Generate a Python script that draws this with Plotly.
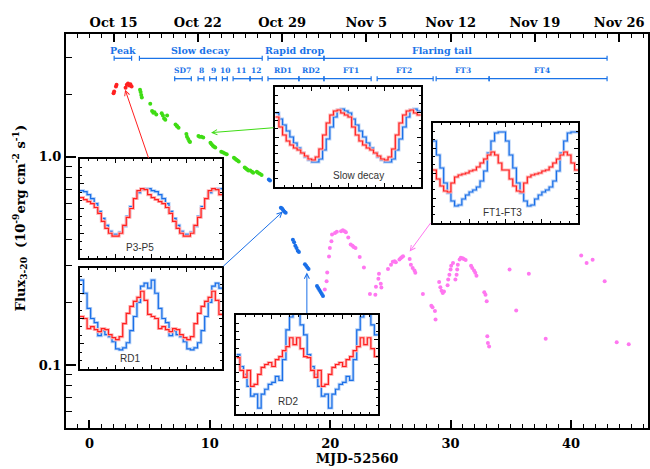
import numpy as np
import plotly.graph_objects as go

# ---------------- data ----------------
peak_t = [2.0, 2.05, 2.2, 2.25, 3.0, 3.1, 3.2, 3.3, 3.4, 3.5]
peak_f = [2.02, 2.06, 2.18, 2.22, 2.15, 2.22, 2.25, 2.20, 2.23, 2.18]

slow_t = [4.2, 4.25, 4.3, 4.35, 5.05, 5.2, 5.3, 5.4, 5.55, 6.0, 6.1, 6.2, 6.3, 6.45,
          7.15, 7.25, 7.3, 7.4, 8.05, 8.1, 8.2, 8.3, 8.35, 9.05, 9.15, 9.3, 9.45,
          10.05, 10.15, 10.25, 10.35, 10.45, 10.95, 11.1, 11.25, 11.4,
          12.0, 12.1, 12.2, 12.3, 12.4, 12.9, 13.0, 13.1, 13.2, 13.35, 13.5, 13.6,
          13.9, 14.0, 14.15, 14.3]
slow_f = [2.10, 2.05, 1.98, 1.93, 1.80, 1.66, 1.63, 1.64, 1.60, 1.62, 1.58, 1.53, 1.51, 1.58,
          1.43, 1.41, 1.40, 1.38, 1.29, 1.25, 1.22, 1.19, 1.18, 1.26, 1.25, 1.25, 1.24,
          1.17, 1.15, 1.13, 1.12, 1.11, 1.06, 1.05, 1.04, 1.03,
          0.99, 0.98, 0.97, 0.96, 0.95, 0.89, 0.88, 0.87, 0.86, 0.86, 0.85, 0.84,
          0.85, 0.84, 0.83, 0.82]

rapid_t = [14.9, 15.0, 15.9, 16.0, 16.1, 16.2, 16.3, 16.9, 17.0, 17.1, 17.2, 17.3, 17.4,
           17.9, 18.0, 18.1, 18.2, 18.9, 19.0, 19.1, 19.2, 19.3, 19.4]
rapid_f = [0.78, 0.77, 0.57, 0.565, 0.555, 0.545, 0.54, 0.40, 0.39, 0.375, 0.365, 0.355, 0.35,
           0.305, 0.30, 0.295, 0.29, 0.24, 0.235, 0.23, 0.225, 0.22, 0.215]

tail_t = [19.55, 19.7, 19.75, 19.9, 19.97, 20.1, 20.15, 20.4, 20.55, 20.9, 21.05, 21.2, 21.3,
          21.5, 21.7, 21.85, 21.95, 22.1, 22.45, 22.8, 23.3, 23.75, 23.8, 24.0, 24.05, 24.2,
          24.25, 24.8, 25.05, 25.2, 25.35, 25.45, 25.75, 25.85, 25.95, 26.05, 26.6, 26.7,
          26.85, 27.0, 27.07, 27.7, 28.4, 28.5, 28.7, 28.75, 29.05, 29.15, 29.25, 29.35,
          29.45, 29.75, 29.8, 29.9, 30.0, 30.05, 30.2, 30.4, 30.5, 30.55, 30.6, 30.75, 30.85,
          31.0, 31.1, 31.25, 31.7, 31.8, 31.95, 32.05, 32.15, 32.8, 32.9, 33.0, 33.05, 33.1,
          33.2, 34.9, 35.45, 36.5, 37.9, 40.85, 41.3, 41.8, 42.8, 43.8, 44.8]
tail_f = [0.231, 0.253, 0.279, 0.333, 0.366, 0.394, 0.424, 0.432, 0.438, 0.44, 0.445, 0.44, 0.435,
          0.41, 0.38, 0.375, 0.37, 0.365, 0.331, 0.295, 0.22, 0.218, 0.238, 0.26, 0.275, 0.246,
          0.236, 0.29, 0.304, 0.314, 0.316, 0.312, 0.322, 0.326, 0.33, 0.334, 0.324, 0.304,
          0.293, 0.285, 0.278, 0.22, 0.193, 0.19, 0.182, 0.166, 0.251, 0.237, 0.228, 0.222,
          0.226, 0.242, 0.258, 0.272, 0.288, 0.30, 0.31, 0.258, 0.272, 0.288, 0.304, 0.322, 0.328,
          0.326, 0.324, 0.32, 0.30, 0.293, 0.285, 0.278, 0.269, 0.224, 0.218, 0.203, 0.138, 0.128,
          0.123, 0.288, 0.183, 0.275, 0.134, 0.336, 0.31, 0.321, 0.253, 0.129, 0.126]

# phase bars (days, MJD-52560)
phase_names = ['Peak', 'Slow decay', 'Rapid drop', 'Flaring tail']
phase_start = [2.05, 4.15, 14.83, 19.48]
phase_end = [3.5, 14.35, 19.48, 43.0]
phase_label_x = [2.8, 9.2, 17.0, 29.3]

sub_names = ['SD7', '8', '9', '10', '11', '12', 'RD1', 'RD2', 'FT1', 'FT2', 'FT3', 'FT4']
sub_start = [7.08, 9.02, 9.99, 11.04, 11.93, 13.34, 14.83, 17.4, 19.48, 23.9, 28.8, 33.2]
sub_end = [8.46, 9.51, 10.54, 11.45, 13.34, 14.35, 17.4, 19.48, 23.4, 28.55, 33.2, 43.0]
sub_label_x = [7.75, 9.27, 10.27, 11.25, 12.6, 13.8, 16.1, 18.4, 21.7, 26.1, 31.0, 37.6]

top_tickvals = [2, 9, 16, 23, 30, 37, 44]
top_ticktext = ['Oct 15', 'Oct 22', 'Oct 29', 'Nov 5', 'Nov 12', 'Nov 19', 'Nov 26']

# pulse profiles: one cycle, 20 phase bins, intensity as fraction of inset height
p3p5_blue = [0.68, 0.67, 0.64, 0.60, 0.55, 0.47, 0.40, 0.33, 0.27, 0.24,
             0.24, 0.26, 0.32, 0.42, 0.52, 0.60, 0.66, 0.69, 0.70, 0.70]
p3p5_red = [0.61, 0.59, 0.57, 0.55, 0.51, 0.45, 0.37, 0.30, 0.25, 0.22,
            0.22, 0.25, 0.33, 0.41, 0.50, 0.60, 0.68, 0.70, 0.69, 0.64]
rd1_blue = [0.88, 0.75, 0.60, 0.50, 0.46, 0.33, 0.38, 0.34, 0.32, 0.27,
            0.20, 0.19, 0.21, 0.26, 0.38, 0.52, 0.66, 0.82, 0.85, 0.80]
rd1_red = [0.52, 0.50, 0.40, 0.42, 0.39, 0.37, 0.40, 0.39, 0.34, 0.31,
           0.29, 0.32, 0.45, 0.55, 0.62, 0.67, 0.71, 0.77, 0.68, 0.54]
sd_blue = [0.74, 0.68, 0.62, 0.56, 0.50, 0.44, 0.39, 0.34, 0.30, 0.27,
           0.25, 0.25, 0.28, 0.37, 0.48, 0.60, 0.70, 0.77, 0.78, 0.76]
sd_red = [0.70, 0.60, 0.52, 0.46, 0.42, 0.39, 0.37, 0.34, 0.31, 0.28,
          0.27, 0.30, 0.38, 0.52, 0.64, 0.72, 0.76, 0.77, 0.74, 0.72]
rd2_blue = [0.60, 0.48, 0.40, 0.28, 0.18, 0.20, 0.06, 0.20, 0.25, 0.30,
            0.32, 0.38, 0.34, 0.55, 0.85, 0.98, 1.05, 1.02, 0.90, 0.80]
rd2_red = [0.57, 0.44, 0.37, 0.44, 0.28, 0.30, 0.40, 0.47, 0.50, 0.52,
           0.48, 0.55, 0.58, 0.64, 0.68, 0.77, 0.70, 0.77, 0.66, 0.58]
ft_blue = [0.82, 0.68, 0.55, 0.40, 0.30, 0.22, 0.17, 0.18, 0.24, 0.28,
           0.31, 0.33, 0.36, 0.42, 0.52, 0.70, 0.82, 0.90, 0.91, 0.91]
ft_red = [0.53, 0.44, 0.37, 0.32, 0.31, 0.40, 0.46, 0.48, 0.49, 0.50,
          0.52, 0.53, 0.56, 0.60, 0.64, 0.68, 0.71, 0.68, 0.60, 0.53]

inset_names = ['P3-P5', 'RD1', 'Slow decay', 'RD2', 'FT1-FT3']

# ---------------- layout geometry ----------------
W, H = 650, 469
ML, MR, MT, MB = 66, 0, 34, 41
PW, PH = W - ML - MR, H - MT - MB

def px2paper_x(px):
    return (px - ML) / PW

def px2paper_y(py):
    return (H - MB - py) / PH

RED = '#ff2020'
GREEN = '#3fdc14'
BLUE = '#1a6fe8'
PINK = '#ff77f0'
ABLUE = '#1a73e8'

fig = go.Figure()

# main scatter
for t, f, c in [(peak_t, peak_f, RED), (slow_t, slow_f, GREEN),
                (rapid_t, rapid_f, BLUE), (tail_t, tail_f, PINK)]:
    fig.add_trace(go.Scatter(x=t, y=f, mode='markers',
                             marker=dict(size=4, color=c, line=dict(width=0)),
                             showlegend=False, hoverinfo='skip'))

# dummy trace for top axis
fig.add_trace(go.Scatter(x=[0], y=[1], xaxis='x2', yaxis='y', mode='markers',
                         marker=dict(opacity=0), showlegend=False, hoverinfo='skip'))

serif = 'DejaVu Serif'
fig.update_layout(
    width=W, height=H,
    margin=dict(l=ML, r=MR, t=MT, b=MB),
    paper_bgcolor='white', plot_bgcolor='white',
    showlegend=False,
    xaxis=dict(range=[-1.95, 46.4], tickmode='linear', tick0=0, dtick=10,
               ticks='inside', ticklen=8, tickwidth=1.5, tickcolor='black',
               minor=dict(dtick=1, tick0=0, ticklen=4, tickwidth=1, tickcolor='black', ticks='inside'),
               showline=True, linewidth=2, linecolor='black', mirror=False,
               showgrid=False, zeroline=False,
               tickfont=dict(family=serif, size=13, color='black', weight='bold'),
               ticklabelstandoff=2,
               title=dict(text='MJD-52560', standoff=2,
                          font=dict(family=serif, size=13, color='black', weight='bold'))),
    xaxis2=dict(range=[-1.95, 46.4], overlaying='x', side='top', anchor='y',
                tickmode='array', tickvals=top_tickvals, ticktext=top_ticktext,
                ticks='inside', ticklen=8, tickwidth=1.5, tickcolor='black',
                minor=dict(dtick=1, tick0=0, ticklen=4, tickwidth=1, tickcolor='black', ticks='inside'),
                showline=True, linewidth=2, linecolor='black',
                showgrid=False, zeroline=False,
                tickfont=dict(family=serif, size=13, color='black', weight='bold')),
    yaxis=dict(type='log', range=[np.log10(0.05), 0.59],
               tickmode='array', tickvals=[0.1, 1.0], ticktext=['0.1', '1.0'],
               ticks='inside', ticklen=10, tickwidth=1.5, tickcolor='black',
               minor=dict(tickmode='array',
                          tickvals=[0.06, 0.07, 0.08, 0.09, 0.2, 0.3, 0.4, 0.5, 0.6, 0.7, 0.8, 0.9, 2, 3],
                          ticklen=6, tickwidth=1, tickcolor='black', ticks='inside'),
               showline=True, linewidth=2, linecolor='black', mirror=True,
               showgrid=False, zeroline=False,
               tickfont=dict(family=serif, size=13, color='black', weight='bold')),
)

# y-axis title as annotation
annotations = [dict(
    text='Flux<sub>3-20</sub>  (10<sup>-9</sup>erg cm<sup>-2</sup> s<sup>-1</sup>)',
    xref='paper', yref='paper', x=px2paper_x(20), y=px2paper_y(218),
    textangle=-90, showarrow=False, xanchor='center', yanchor='middle',
    font=dict(family=serif, size=13, color='black', weight='bold'))]

shapes = []
# phase bars
row1_bar, row1_txt, row2_bar, row2_txt = 58.3, 50, 78.7, 70.7
for name, s, e, lx in zip(phase_names, phase_start, phase_end, phase_label_x):
    yb = px2paper_y(row1_bar)
    shapes.append(dict(type='line', xref='x', yref='paper', x0=s, x1=e, y0=yb, y1=yb,
                       line=dict(color=ABLUE, width=1.3)))
    for xx in (s, e):
        shapes.append(dict(type='line', xref='x', yref='paper', x0=xx, x1=xx,
                           y0=px2paper_y(row1_bar - 2.5), y1=px2paper_y(row1_bar + 2.5),
                           line=dict(color=ABLUE, width=1.2)))
    annotations.append(dict(text=name, xref='x', yref='paper', x=lx, y=px2paper_y(row1_txt),
                            showarrow=False, xanchor='center', yanchor='middle',
                            font=dict(family=serif, size=9.5, color=ABLUE, weight='bold')))
for name, s, e, lx in zip(sub_names, sub_start, sub_end, sub_label_x):
    yb = px2paper_y(row2_bar)
    shapes.append(dict(type='line', xref='x', yref='paper', x0=s, x1=e, y0=yb, y1=yb,
                       line=dict(color=ABLUE, width=1.3)))
    for xx in (s, e):
        shapes.append(dict(type='line', xref='x', yref='paper', x0=xx, x1=xx,
                           y0=px2paper_y(row2_bar - 2.5), y1=px2paper_y(row2_bar + 2.5),
                           line=dict(color=ABLUE, width=1.2)))
    annotations.append(dict(text=name, xref='x', yref='paper', x=lx, y=px2paper_y(row2_txt),
                            showarrow=False, xanchor='center', yanchor='middle',
                            font=dict(family=serif, size=7.5, color=ABLUE, weight='bold')))

# ---------------- insets ----------------
inset_boxes = [  # pixel boxes (x0, x1, ytop, ybottom)
    (80, 223, 159, 258),
    (80, 223, 268, 369),
    (276, 422, 87, 187),
    (237, 379, 315, 414),
    (434, 580, 123, 223),
]
inset_profiles = [(p3p5_blue, p3p5_red), (rd1_blue, rd1_red), (sd_blue, sd_red),
                  (rd2_blue, rd2_red), (ft_blue, ft_red)]
label_pos = [(0.31, 0.11), (0.27, 0.10), (0.38, 0.12), (0.28, 0.13), (0.33, 0.11)]

nb = 20
edges = np.arange(2 * nb + 1) / nb  # phase 0..2
for k, ((x0, x1, yt, yb), (blue, red), name, lp) in enumerate(
        zip(inset_boxes, inset_profiles, inset_names, label_pos)):
    ax_id = k + 3
    xn, yn = f'x{ax_id}', f'y{ax_id}'
    # white background
    fig.add_trace(go.Scatter(x=[0, 2, 2, 0, 0], y=[0, 0, 1, 1, 0], xaxis=xn, yaxis=yn,
                             fill='toself', fillcolor='white', mode='lines',
                             line=dict(width=0, color='white'), hoverinfo='skip'))
    for prof, col, halo in [(blue, BLUE, '#b4d0f7'), (red, RED, '#ffb8b8')]:
        vals = list(prof) + list(prof)
        vals = vals + [vals[-1]]
        fig.add_trace(go.Scatter(x=edges, y=vals, xaxis=xn, yaxis=yn, mode='lines',
                                 line=dict(color=halo, width=3, shape='hv'), hoverinfo='skip'))
        fig.add_trace(go.Scatter(x=edges, y=vals, xaxis=xn, yaxis=yn, mode='lines',
                                 line=dict(color=col, width=1.2, shape='hv'), hoverinfo='skip'))
    fig.layout[f'xaxis{ax_id}'] = dict(
        domain=[px2paper_x(x0), px2paper_x(x1)], anchor=yn, range=[0, 2],
        tickmode='linear', tick0=0, dtick=0.5, ticks='inside', ticklen=4, tickwidth=1,
        tickcolor='black', minor=dict(dtick=0.125, ticklen=2.5, tickwidth=1, ticks='inside',
                                      tickcolor='black'),
        showticklabels=False, showline=True, linewidth=1.5, linecolor='black',
        mirror='allticks', showgrid=False, zeroline=False, fixedrange=True)
    fig.layout[f'yaxis{ax_id}'] = dict(
        domain=[px2paper_y(yb), px2paper_y(yt)], anchor=xn, range=[0, 1],
        tickmode='linear', tick0=0, dtick=0.25, ticks='inside', ticklen=4, tickwidth=1,
        tickcolor='black', minor=dict(dtick=0.25 / 3, ticklen=2.5, tickwidth=1, ticks='inside',
                                      tickcolor='black'),
        showticklabels=False, showline=True, linewidth=1.5, linecolor='black',
        mirror='allticks', showgrid=False, zeroline=False, fixedrange=True)
    annotations.append(dict(text=name, xref=f'{xn} domain', yref=f'{yn} domain',
                            x=lp[0], y=lp[1], showarrow=False, xanchor='left',
                            yanchor='middle',
                            font=dict(family='Liberation Sans', size=10, color='#333333')))

# arrows (head at data position, tail offset in pixels)
arrows = [  # (x, flux, ax, ay, color)
    (2.96, 10 ** 0.323, 24, 70, RED),
    (10.1, 10 ** 0.1166, 64, -5, GREEN),
    (16.06, 10 ** -0.2625, -61, 56, BLUE),
    (18.06, 10 ** -0.555, 0, 42, BLUE),
    (26.6, 10 ** -0.454, 22, -30, PINK),
]
for x, f, axp, ayp, col in arrows:
    annotations.append(dict(x=x, y=np.log10(f), xref='x', yref='y', ax=axp, ay=ayp,
                            showarrow=True, arrowhead=5, arrowsize=1, arrowwidth=1,
                            arrowcolor=col, text=''))

fig.update_layout(annotations=annotations, shapes=shapes)
fig.write_html('out.html')
